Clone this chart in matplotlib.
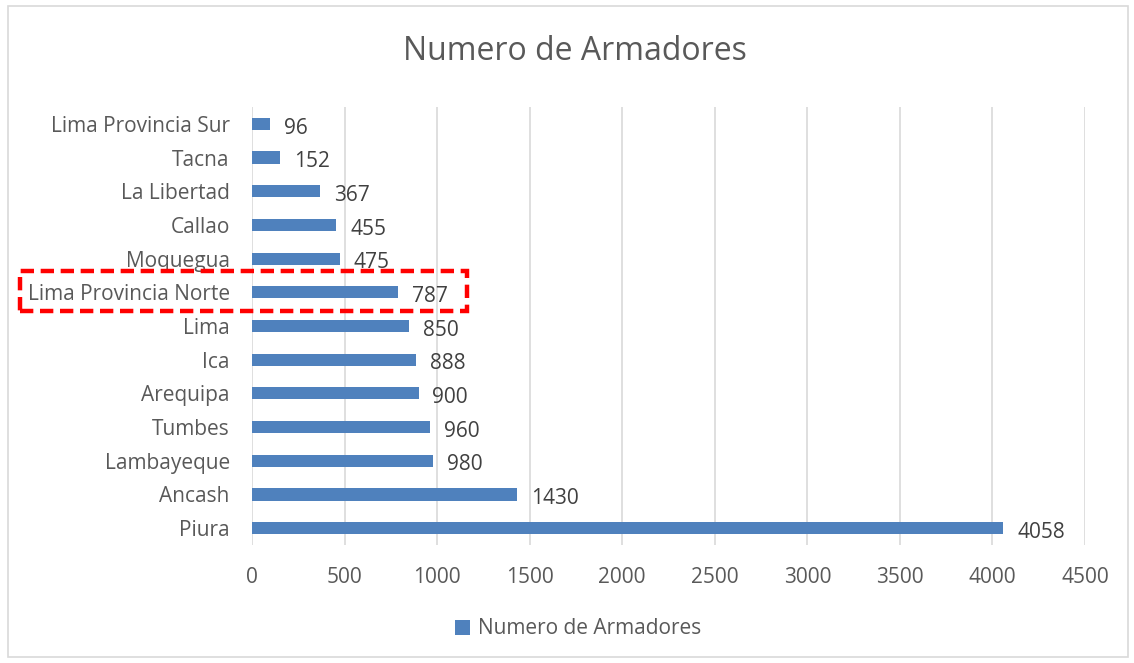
import matplotlib
matplotlib.use("Agg")
import matplotlib.pyplot as plt
from matplotlib.patches import Rectangle

categories = ["Piura", "Ancash", "Lambayeque", "Tumbes", "Arequipa", "Ica", "Lima",
              "Lima Provincia Norte", "Moquegua", "Callao", "La Libertad", "Tacna",
              "Lima Provincia Sur"]
values = [4058, 1430, 980, 960, 900, 888, 850, 787, 475, 455, 367, 152, 96]
xticks = [0, 500, 1000, 1500, 2000, 2500, 3000, 3500, 4000, 4500]
series_name = "Numero de Armadores"
highlight = "Lima Provincia Norte"

plt.rcParams['font.family'] = ['Open Sans', 'DejaVu Sans']
TXT = '#595959'
LBL = '#404040'
BAR = '#4F81BD'

fig = plt.figure(figsize=(11.34, 6.63), dpi=100)
ax = fig.add_axes([252/1134, 1-545/663, (1085-252)/1134, (545-107)/663])

y = list(range(len(categories)))
bars = ax.barh(y, values, height=0.36, color=BAR, label=series_name, zorder=3)
ax.set_xlim(0, 4500)
ax.set_ylim(-0.5, len(categories)-0.5)
ax.set_xticks(xticks)
ax.set_xticklabels([str(t) for t in xticks], fontsize=15, color=TXT)
ax.set_yticks(y)
ax.set_yticklabels(categories, fontsize=15, color=TXT)
ax.tick_params(axis='both', length=0)
ax.tick_params(axis='x', pad=16)
ax.tick_params(axis='y', pad=16)
ax.grid(axis='x', color='#d9d9d9', linewidth=1.2, zorder=0)
for s in ax.spines.values():
    s.set_visible(False)

for yi, v in zip(y, values):
    ax.annotate(str(v), (v, yi), xytext=(10, -3), textcoords='offset points',
                ha='left', va='center', fontsize=15, color=LBL)

fig.text(575/1134, 1-52/663, "Numero de Armadores", ha='center', va='center',
         fontsize=23, color=TXT)

fig.legend(handles=[bars], labels=[series_name], loc='center',
           bbox_to_anchor=(578/1134, 1-629/663), frameon=False, fontsize=15,
           labelcolor=TXT, handlelength=0.7, handleheight=0.7, handletextpad=0.4)

# chart border
fig.patches.append(Rectangle((8/1134, 6/663), 1120/1134, 651/663, transform=fig.transFigure,
                             fill=False, edgecolor='#d9d9d9', linewidth=1.2))

# highlight box
fig.patches.append(Rectangle((20/1134, 1-311/663), 447/1134, 40/663, transform=fig.transFigure,
                             fill=False, edgecolor='#ff0000', linewidth=3.2,
                             linestyle=(0, (3, 1.5)), zorder=10))

fig.savefig("out.png", dpi=100)
